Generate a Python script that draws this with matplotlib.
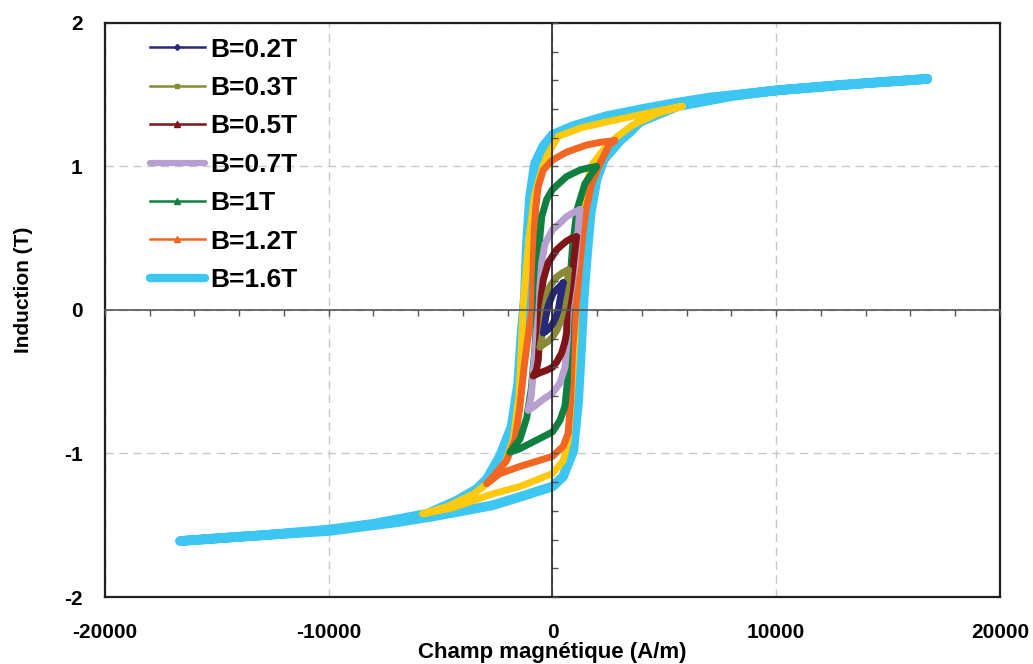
import numpy as np
import matplotlib
matplotlib.use('Agg')
import matplotlib.pyplot as plt
from matplotlib.lines import Line2D
from matplotlib.ticker import MultipleLocator, NullFormatter

plt.rcParams['font.family'] = ['Liberation Sans', 'DejaVu Sans']
plt.rcParams['font.weight'] = 'bold'
plt.rcParams['axes.unicode_minus'] = False

# cycles d'hysteresis : branche descendante puis ascendante (H en A/m, B en T)
h_02 = [480, 300, 40, -190, -300, -410, -300, -150, 0, 150, 260, 335, 420, 480]
b_02 = [0.19, 0.16, 0.12, 0.03, -0.05, -0.16, -0.15, -0.13, -0.10, -0.05, 0.0, 0.07, 0.14, 0.19]

h_03 = [710, 450, 190, -50, -190, -335, -410, -480, -560, -400, -200, 0, 200, 335, 480, 560, 630, 680, 710]
b_03 = [0.28, 0.26, 0.23, 0.18, 0.14, 0.03, -0.11, -0.20, -0.26, -0.24, -0.22, -0.19, -0.14, -0.09, 0.0, 0.07, 0.14,
        0.22, 0.28]

h_05 = [1080, 850, 630, 400, 190, -190, -410, -500, -530, -560, -635, -720, -860,
        -600, -260, 0, 200, 410, 560, 630, 660, 760, 860, 980, 1080]
b_05 = [0.51, 0.50, 0.48, 0.45, 0.42, 0.33, 0.21, 0.10, 0.02, -0.16, -0.35, -0.42, -0.46,
        -0.44, -0.42, -0.40, -0.36, -0.30, -0.22, -0.16, 0.0, 0.10, 0.21, 0.38, 0.51]

h_07 = [1230, 950, 630, 300, 0, -335, -480, -560, -600, -710, -860, -950, -1080,
        -800, -480, 0, 335, 560, 660, 720, 850, 1000, 1110, 1180, 1230]
b_07 = [0.70, 0.68, 0.65, 0.60, 0.56, 0.46, 0.33, 0.16, 0.02, -0.16, -0.44, -0.60, -0.70,
        -0.67, -0.63, -0.58, -0.51, -0.40, -0.21, 0.0, 0.15, 0.30, 0.49, 0.62, 0.70]

h_1 = [1970, 1600, 1230, 630, 0, -260, -480, -560, -635, -670, -800, -950, -1150, -1450, -1900,
       -1500, -1000, 0, 335, 560, 660, 700, 750, 820, 900, 1100, 1450, 1970]
b_1 = [1.00, 0.99, 0.975, 0.93, 0.84, 0.77, 0.65, 0.51, 0.28, 0.02, -0.30, -0.55, -0.75, -0.90, -0.99,
       -0.97, -0.93, -0.85, -0.77, -0.67, -0.51, -0.28, 0.0, 0.28, 0.45, 0.70, 0.88, 1.00]

h_12 = [2790, 2200, 1530, 630, 0, -410, -635, -740, -810, -860, -900, -1100, -1270, -1450, -1680, -2050, -2650, -2940,
        -2350, -1450, 0, 480, 700, 810, 900, 1050, 1230, 1380, 1530, 1750, 2120, 2570, 2790]
b_12 = [1.18, 1.17, 1.15, 1.10, 1.045, 0.975, 0.86, 0.72, 0.56, 0.33, 0.02, -0.20, -0.40, -0.67, -0.91, -1.05, -1.16,
        -1.21, -1.14, -1.09, -1.02, -0.95, -0.86, -0.63, -0.28, 0.02, 0.33, 0.56, 0.72, 0.88, 1.02, 1.16, 1.18]

h_14 = [5800, 4500, 2400, 1300, 260, -260, -480, -800, -1050, -1300, -1400, -1500, -1750, -2100, -2600, -3500, -4700,
        -5800, -4500, -2650, -1450, 0, 480, 700, 850, 1000, 1100, 1250, 1450, 1800, 2300, 2900, 3600, 4700, 5800]
b_14 = [1.42, 1.38, 1.31, 1.27, 1.21, 1.07, 0.975, 0.80, 0.50, 0.05, -0.30, -0.60, -0.90, -1.06, -1.17, -1.28, -1.37,
        -1.42, -1.38, -1.28, -1.23, -1.14, -1.05, -0.91, -0.60, -0.20, 0.20, 0.55, 0.85, 1.02, 1.12, 1.21, 1.29, 1.37,
        1.42]

h_16 = [16750, 14000, 10000, 7000, 5400, 4000, 2400, 900, 0, -410, -780, -1000, -1150, -1230, -1380, -1530, -1820,
        -2350, -2940, -3400, -4300, -5600, -8000, -10000, -13000, -16650,
        -14000, -10000, -7000, -5400, -4000, -2650, -1200, 0, 480, 930, 1150, 1300, 1400, 1550, 1700, 1970,
        2300, 3020, 3460, 3900, 5600, 8000, 10000, 13000, 16750]
b_16 = [1.61, 1.58, 1.53, 1.48, 1.44, 1.40, 1.35, 1.28, 1.22, 1.14, 1.02, 0.79, 0.44, 0.09, -0.16, -0.51, -0.81,
        -1.02, -1.18, -1.25, -1.33, -1.42, -1.49, -1.53, -1.57, -1.61,
        -1.58, -1.54, -1.48, -1.44, -1.40, -1.36, -1.29, -1.23, -1.16, -0.98, -0.63, -0.20, 0.10, 0.40, 0.67, 0.91,
        1.05, 1.18, 1.24, 1.31, 1.42, 1.49, 1.53, 1.57, 1.61]

fig = plt.figure(figsize=(10.33, 6.64), dpi=100)
ax = fig.add_axes([0.1016, 0.1009, 0.8664, 0.8645])

# du dessous vers le dessus
kw = dict(solid_joinstyle='round', solid_capstyle='round')
ax.plot(h_16, b_16, color='#3DC6F1', lw=7, zorder=3, **kw)
ax.plot(h_14, b_14, color='#FFC90E', lw=5, zorder=4, **kw)
ax.plot(h_12, b_12, color='#F26522', lw=5, zorder=5, **kw)
ax.plot(h_1, b_1, color='#0E8040', lw=5, zorder=6, **kw)
ax.plot(h_07, b_07, color='#B7A0CF', lw=5, zorder=7, **kw)
ax.plot(h_05, b_05, color='#7F1419', lw=5, zorder=8, **kw)
ax.plot(h_03, b_03, color='#898937', lw=5, zorder=9, **kw)
ax.plot(h_02, b_02, color='#262A78', lw=5, zorder=10, **kw)

ax.set_xlim(-20000, 20000)
ax.set_ylim(-2, 2)
ax.set_xticks([-20000, -10000, 0, 10000, 20000])
ax.set_yticks([-2, -1, 0, 1, 2])
ax.tick_params(length=0, labelsize=15, pad=16)
ax.tick_params(axis='x', pad=19)
ax.grid(True, color='#C8C8C8', ls=(0, (6, 4)), lw=1)
ax.set_axisbelow(True)
for s in ax.spines.values():
    s.set_linewidth(1.6)
    s.set_color('#231F20')
ax.set_xlabel('Champ magnétique (A/m)', fontsize=16, fontweight='bold', labelpad=0)
ax.set_ylabel('Induction (T)', fontsize=15, fontweight='bold')
ax.yaxis.set_label_coords(-0.080, 0.535)

# axes centraux (par-dessus les courbes) avec graduations secondaires
ax2 = fig.add_axes(ax.get_position(), frameon=True)
ax2.patch.set_alpha(0)
ax2.set_xlim(-20000, 20000)
ax2.set_ylim(-2, 2)
ax2.spines['left'].set_position('zero')
ax2.spines['bottom'].set_position('zero')
ax2.spines['top'].set_visible(False)
ax2.spines['right'].set_visible(False)
ax2.spines['left'].set_color('#222222')
ax2.spines['bottom'].set_color('#555555')
ax2.spines['left'].set_linewidth(1.2)
ax2.spines['bottom'].set_linewidth(1.2)
ax2.xaxis.set_major_locator(MultipleLocator(2000))
ax2.yaxis.set_major_locator(MultipleLocator(0.2))
ax2.xaxis.set_major_formatter(NullFormatter())
ax2.yaxis.set_major_formatter(NullFormatter())
ax2.tick_params(axis='x', direction='out', length=4, width=1, color='#555555')
ax2.tick_params(axis='y', direction='in', length=4, width=1, color='#555555')
ax.set_zorder(1)
ax2.set_zorder(2)

handles = [
    Line2D([], [], color='#262A78', lw=1.8, marker='D', ms=3),
    Line2D([], [], color='#898937', lw=1.8, marker='s', ms=2.5),
    Line2D([], [], color='#7F1419', lw=1.8, marker='^', ms=4),
    Line2D([], [], color='#B7A0CF', lw=4.5, solid_capstyle='round'),
    Line2D([], [], color='#0E8040', lw=1.8, marker='^', ms=5),
    Line2D([], [], color='#F26522', lw=1.8, marker='^', ms=4),
    Line2D([], [], color='#3DC6F1', lw=6, solid_capstyle='round'),
]
labels = ['B=0.2T', 'B=0.3T', 'B=0.5T', 'B=0.7T', 'B=1T', 'B=1.2T', 'B=1.6T']
ax.legend(handles, labels, loc='upper left', bbox_to_anchor=(0.05, 0.9745), frameon=False,
          borderpad=0, borderaxespad=0, handlelength=2.08, handletextpad=0.23, labelspacing=0.545,
          prop={'size': 19, 'weight': 'bold'})

plt.savefig('out.png', dpi=100)
